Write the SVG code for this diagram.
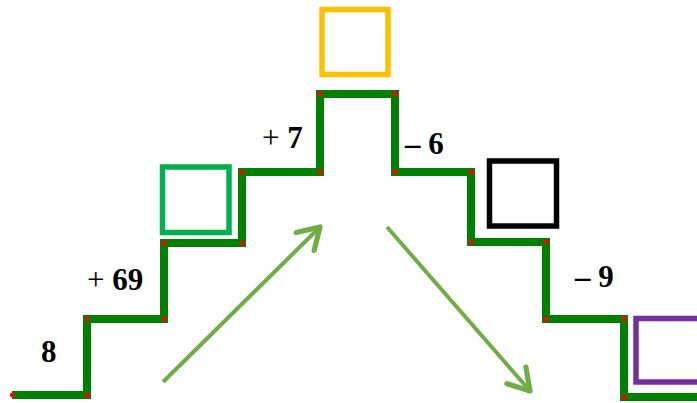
<svg xmlns="http://www.w3.org/2000/svg" width="697" height="403" viewBox="0 0 697 403">
<style>
.stair{fill:none;stroke:#008000;stroke-width:8;stroke-linejoin:miter}
.dot{fill:#ff0000}
.box{fill:none;stroke-width:5.5}
.arrow{fill:none;stroke:#70AD47;stroke-width:4}
.lbl{font-family:"Liberation Serif","Times New Roman",serif;font-size:31px;font-weight:bold;fill:#000}
.op{font-weight:normal}
</style>
<defs>
<marker id="ah" markerUnits="userSpaceOnUse" markerWidth="30" markerHeight="30" viewBox="-22 -13 26 26" refX="0" refY="0" orient="auto">
<path d="M-18,-11 L0,0 L-18,11" fill="none" stroke="#70AD47" stroke-width="4.5" stroke-linecap="round" stroke-linejoin="round"/>
</marker>
</defs>
<rect width="697" height="403" fill="#fff"/>
<g id="connectors">
<path id="stairs" class="stair" d="M12,395 H87 V319 H164 V243 H242 V172 H320 V94 H395 V172 H471 V242 H546 V319 H624 V397 H697"/>
<line id="arrow-up" class="arrow" x1="163" y1="382" x2="320" y2="227" marker-end="url(#ah)"/>
<line id="arrow-down" class="arrow" x1="387" y1="227" x2="530" y2="391" marker-end="url(#ah)"/>
</g>
<g id="corners">
<circle class="dot" cx="12.5" cy="395" r="2.5"/>
<circle class="dot" cx="87" cy="395" r="2.5"/>
<circle class="dot" cx="87" cy="319" r="2.5"/>
<circle class="dot" cx="164" cy="319" r="2.5"/>
<circle class="dot" cx="164" cy="243" r="2.5"/>
<circle class="dot" cx="242" cy="243" r="2.5"/>
<circle class="dot" cx="242" cy="172" r="2.5"/>
<circle class="dot" cx="320" cy="172" r="2.5"/>
<circle class="dot" cx="320" cy="94" r="2.5"/>
<circle class="dot" cx="395" cy="94" r="2.5"/>
<circle class="dot" cx="395" cy="172" r="2.5"/>
<circle class="dot" cx="471" cy="172" r="2.5"/>
<circle class="dot" cx="471" cy="242" r="2.5"/>
<circle class="dot" cx="546" cy="242" r="2.5"/>
<circle class="dot" cx="546" cy="319" r="2.5"/>
<circle class="dot" cx="624" cy="319" r="2.5"/>
<circle class="dot" cx="624" cy="397" r="2.5"/>
</g>
<g id="box-top"><rect class="box" stroke="#FFC000" x="322" y="9.5" width="66" height="65"/></g>
<g id="box-green"><rect class="box" stroke="#00B050" x="162.5" y="167" width="66.5" height="65.5"/></g>
<g id="box-black"><rect class="box" stroke="#000000" x="489.5" y="161" width="67" height="65"/></g>
<g id="box-purple"><rect class="box" stroke="#7030A0" x="636" y="318.5" width="70" height="63.5"/></g>
<g id="label-8"><text class="lbl" x="41" y="362">8</text></g>
<g id="label-plus69"><text class="lbl" x="87" y="290"><tspan class="op">+</tspan> 69</text></g>
<g id="label-plus7"><text class="lbl" x="262" y="148"><tspan class="op">+</tspan> 7</text></g>
<g id="label-minus6"><text class="lbl" x="405" y="154">– 6</text></g>
<g id="label-minus9"><text class="lbl" x="575" y="287">– 9</text></g>
</svg>
